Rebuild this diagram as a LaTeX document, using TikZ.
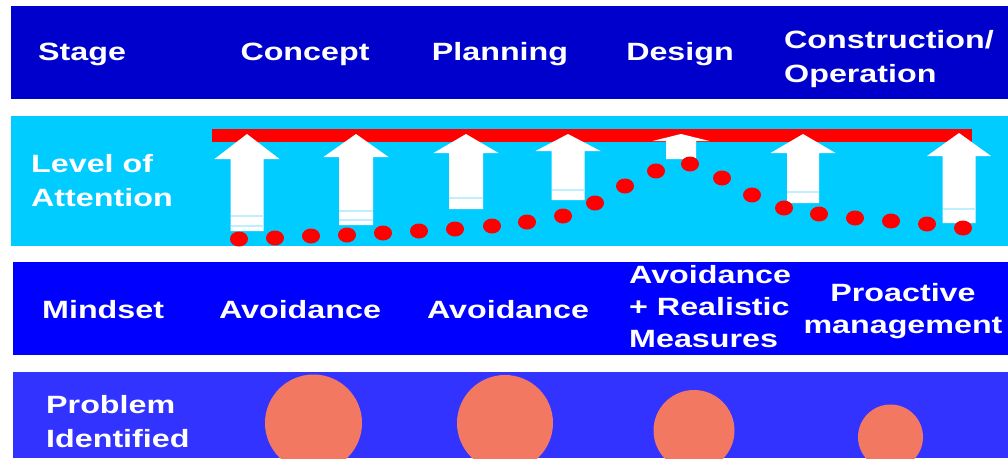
\documentclass[tikz,border=0pt]{standalone}
\usepackage{fontspec}
\setmainfont[FakeStretch=1.29]{Liberation Sans}
\definecolor{stageblue}{HTML}{0000CC}
\definecolor{attncyan}{HTML}{00CCFF}
\definecolor{mindblue}{HTML}{0000FF}
\definecolor{probblue}{HTML}{3333FF}
\definecolor{blob}{HTML}{F27862}
\definecolor{stripe}{HTML}{BFEEFF}
\begin{document}
\begin{tikzpicture}[x=1pt,y=-1pt]
        \tikzstyle{every node}=[text=white,inner sep=0pt,font=\bfseries\fontsize{25}{34}\selectfont];
        \tikzstyle{tight}=[font=\bfseries\fontsize{25}{32}\selectfont];
        \tikzstyle{uparrow}=[fill=white];
        \tikzstyle{gap}=[draw=stripe,line width=2pt];
        \useasboundingbox (0,0) rectangle (1008,458);
        \clip (0,0) rectangle (1008,458);
        % bands
        \fill[stageblue] (11,6) rectangle (1008,99);
        \fill[attncyan] (11,116) rectangle (1008,246);
        \fill[mindblue] (13,262) rectangle (1008,355);
        \fill[probblue] (13,372) rectangle (1008,458);
        % target level
        \fill[red] (212,129) rectangle (972,142);
        % arrows: x/tip/head base/bottom/head half/shaft half
        \foreach \x/\t/\h/\b/\hw/\sw in {247/134/159/231/32.5/16.5, 356/134/157/225/32.5/17,
            466/134/153/209/32.5/17, 568/134/151/200/32.5/16.5, 681/134/141/159/28.5/15,
            803/134/153/203/32.5/16, 959/133/156/223/32/16.5}
            \fill[uparrow] (\x-\sw,\b) -- (\x-\sw,\h) -- (\x-\hw,\h) -- (\x,\t)
                -- (\x+\hw,\h) -- (\x+\sw,\h) -- (\x+\sw,\b) -- cycle;
        \foreach \x/\y/\sw in {247/216/16.5, 247/226/16.5, 356/211/17, 356/220/17,
            466/198/17, 568/190/16.5, 803/192/16, 959/209/16.5}
            \draw[gap] (\x-\sw,\y) -- (\x+\sw,\y);
        % attention curve
        \foreach \x/\y in {239/239, 275/238, 311/236, 347/235, 383/233, 419/231, 455/229,
            492/226, 527/222, 563/216, 595/203, 625/186, 656/171, 690/164, 722/178,
            752/195, 784/208, 819/214, 855/218, 891/221, 927/224, 963/228}
            \fill[red] (\x,\y) ellipse (9pt and 7.5pt);
        % problems
        \fill[blob] (313.5,423) circle (48.5pt);
        \fill[blob] (505,423) circle (48pt);
        \fill[blob] (694,430.5) circle (40.5pt);
        \fill[blob] (890.5,437) circle (32.5pt);
        % texts
        \node[anchor=base west] (stage) at (38,60) {Stage};
        \node[anchor=base] (concept) at (305,60) {Concept};
        \node[anchor=base] (planning) at (500,60) {Planning};
        \node[anchor=base] (design) at (680,60) {Design};
        \node[anchor=north west,align=left] (constr) at (784,30) {Construction/\\Operation};
        \node[anchor=north west,align=left] (level) at (31,154) {Level of\\Attention};
        \node[anchor=base west] (mindset) at (42,318) {Mindset};
        \node[anchor=base] (avoid1) at (300,318) {Avoidance};
        \node[anchor=base] (avoid2) at (508,318) {Avoidance};
        \node[tight,anchor=north west,align=left] (avoid3) at (629,265) {Avoidance\\+ Realistic\\Measures};
        \node[tight,anchor=north,align=center] (proact) at (903,283) {Proactive\\management};
        \node[anchor=north west,align=left] (problem) at (46,395) {Problem\\Identified};
    \end{tikzpicture}
\end{document}
